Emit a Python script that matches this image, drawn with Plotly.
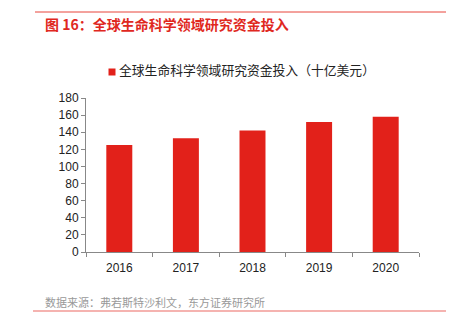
import plotly.graph_objects as go

years = ["2016", "2017", "2018", "2019", "2020"]
funding = [125, 133, 142, 152, 158]
y_ticks = [0, 20, 40, 60, 80, 100, 120, 140, 160, 180]
series_name = "全球生命科学领域研究资金投入（十亿美元）"
title_text = "图 16：全球生命科学领域研究资金投入"
source_text = "数据来源：弗若斯特沙利文，东方证券研究所"

W, H = 462, 328
L, R, T, B = 86, 43, 98, 76
pw, ph = W - L - R, H - T - B

def px_x(x):
    return (x - L) / pw

def px_y(y):
    return (H - B - y) / ph

font_cjk = "Noto Sans CJK SC"
font_num = "Liberation Sans, Arial, sans-serif"
bar_color = "#e2211a"

fig = go.Figure()
fig.add_trace(go.Bar(
    x=years, y=funding, name=series_name,
    marker=dict(color=bar_color, line=dict(width=0)),
    showlegend=False,
))

fig.update_layout(
    width=W, height=H,
    margin=dict(l=L, r=R, t=T, b=B),
    paper_bgcolor="white", plot_bgcolor="white",
    bargap=0.61,
    xaxis=dict(
        type="category", showline=True, linecolor="#888", linewidth=1,
        ticks="outside", tickson="boundaries", ticklen=4, tickcolor="#888",
        tickfont=dict(family=font_num, size=12, color="#222"),
        ticklabelstandoff=5,
        showgrid=False, zeroline=False,
    ),
    yaxis=dict(
        range=[0, 180], tickvals=y_ticks,
        showline=True, linecolor="#888", linewidth=1,
        ticks="outside", ticklen=4, tickcolor="#888",
        tickfont=dict(family=font_num, size=12, color="#222"),
        showgrid=False, zeroline=False,
    ),
    shapes=[
        dict(type="line", xref="paper", yref="paper",
             x0=px_x(35), x1=px_x(446), y0=px_y(12), y1=px_y(12),
             line=dict(color="#e8443a", width=1)),
        dict(type="line", xref="paper", yref="paper",
             x0=px_x(33), x1=px_x(446), y0=px_y(311), y1=px_y(311),
             line=dict(color="#f29a96", width=1.5)),
        dict(type="rect", xref="paper", yref="paper",
             x0=px_x(108.5), x1=px_x(115.5), y0=px_y(75.5), y1=px_y(68.5),
             fillcolor=bar_color, line=dict(width=0)),
    ],
    annotations=[
        dict(text="<b>" + title_text + "</b>", xref="paper", yref="paper",
             x=px_x(43), y=px_y(24), xanchor="left", yanchor="middle",
             showarrow=False,
             font=dict(family=font_cjk, size=14, color="#e0281e")),
        dict(text=series_name, xref="paper", yref="paper",
             x=px_x(117), y=px_y(70), xanchor="left", yanchor="middle",
             showarrow=False,
             font=dict(family=font_cjk, size=12.8, color="#222")),
        dict(text=source_text, xref="paper", yref="paper",
             x=px_x(43), y=px_y(302), xanchor="left", yanchor="middle",
             showarrow=False,
             font=dict(family=font_cjk, size=11, color="#999")),
    ],
)

fig.write_html("out.html")
